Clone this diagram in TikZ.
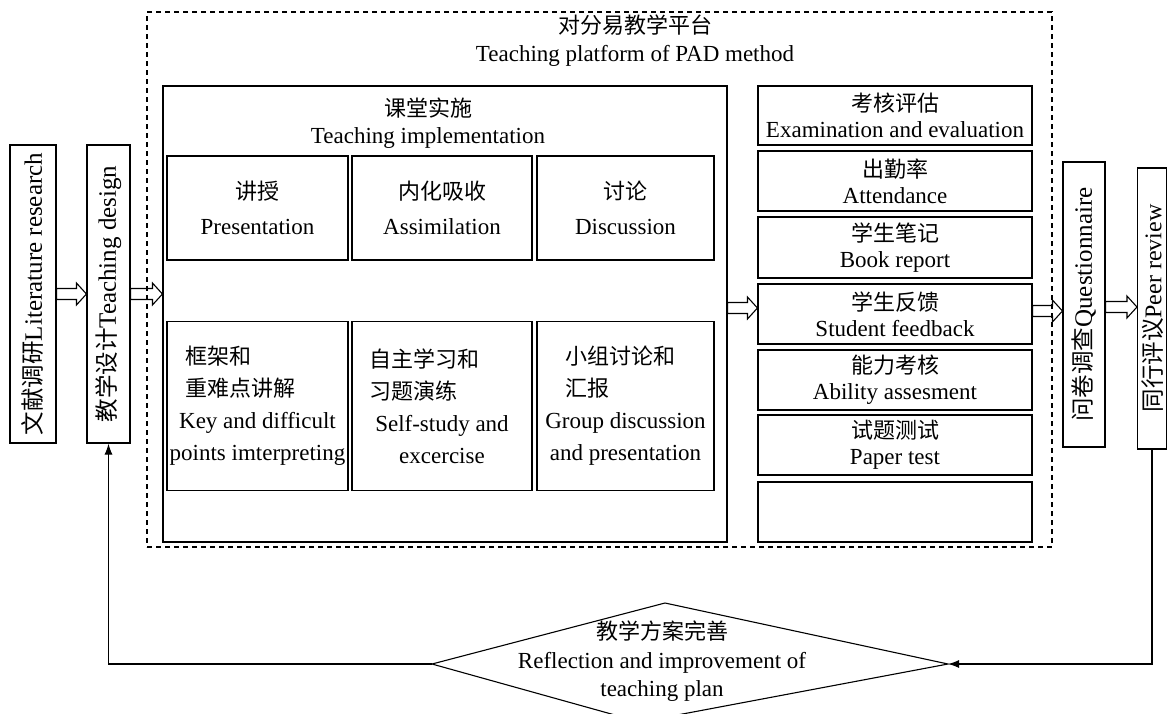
\documentclass[tikz,border=0pt]{standalone}
\usepackage{fontspec}
\setmainfont{Liberation Serif}
\newfontfamily\cjk{Noto Sans CJK SC}
\usetikzlibrary{calc,arrows.meta}
\newcommand\zh[1]{{\cjk\fontsize{22pt}{\baselineskip}\selectfont #1}}
\newcommand\zhv[1]{{\cjk\fontsize{23.5pt}{\baselineskip}\selectfont #1}}
\newcommand\blockarrow[2]{%
  \path let \p1=(#1), \p2=(#2) in [blockarr]
    (\x1,\y1+5.5pt) -- (\x2-10pt,\y1+5.5pt) -- (\x2-10pt,\y1+11pt) -- (\x2,\y1)
    -- (\x2-10pt,\y1-11pt) -- (\x2-10pt,\y1-5.5pt) -- (\x1,\y1-5.5pt) -- cycle;}
\begin{document}
\begin{tikzpicture}[x=1pt,y=-1pt,
  tbox/.style={draw, line width=1.1pt, inner sep=0pt, align=center, font=\fontsize{23pt}{26pt}\selectfont},
  txt/.style={inner sep=0pt, align=center, font=\fontsize{23pt}{28pt}\selectfont},
  rowone/.style={tbox, font=\fontsize{23pt}{35pt}\selectfont, minimum height=104pt},
  rowtwo/.style={tbox, font=\fontsize{23pt}{32pt}\selectfont, minimum height=169pt},
  rc/.style={tbox, minimum width=274pt, minimum height=60pt},
  vtxt/.style={inner sep=0pt, rotate=90, font=\fontsize{25pt}{28pt}\selectfont},
  blockarr/.style={draw, line width=1.1pt, line join=miter},
  fback/.style={draw, line width=1.1pt, -{Latex[length=11pt,width=8pt]}},
]
\useasboundingbox (0,0) rectangle (1167,713);
\clip (0,0) rectangle (1167,713);

% platform (dashed)
\node[draw, line width=1.1pt, dash pattern=on 5pt off 4pt, inner sep=0pt,
      minimum width=905pt, minimum height=535pt] (platform) at (599.5,279.5) {};
\node[txt] (ptitle) at (635,41) {\zh{对分易教学平台}\\Teaching platform of PAD method};

% teaching implementation
\node[tbox, minimum width=564pt, minimum height=456pt] (impl) at (445,314) {};
\node[txt, font=\fontsize{23pt}{27pt}\selectfont] (impltitle) at (428,123.5) {\zh{课堂实施}\\Teaching implementation};

\node[rowone, minimum width=181pt] (pres) at (257.5,208) {\zh{讲授}\\Presentation};
\node[rowone, minimum width=180pt] (assim) at (442,208) {\zh{内化吸收}\\Assimilation};
\node[rowone, minimum width=177pt] (disc) at (625.5,208) {\zh{讨论}\\Discussion};

\node[rowtwo, minimum width=181pt] (keyp) at (257.5,406)
  {\makebox[145pt][l]{\zh{框架和}}\\\makebox[145pt][l]{\zh{重难点讲解}}\\Key and difficult\\points imterpreting};
\node[rowtwo, minimum width=180pt] (self) at (442,406)
  {\makebox[146pt][l]{\zh{自主学习和}}\\\makebox[146pt][l]{\zh{习题演练}}\\Self-study and\\excercise};
\node[rowtwo, minimum width=177pt] (group) at (625.5,406)
  {\makebox[121pt][l]{\zh{小组讨论和}}\\\makebox[121pt][l]{\zh{汇报}}\\Group discussion\\and presentation};

% evaluation column
\node[rc, minimum height=59pt] (exam) at (895,115.5) {\zh{考核评估}\\Examination and evaluation};
\node[rc] (att) at (895,181) {\zh{出勤率}\\Attendance};
\node[rc, minimum height=61pt] (book) at (895,247.5) {\zh{学生笔记}\\Book report};
\node[rc] (fb) at (895,314) {\zh{学生反馈}\\Student feedback};
\node[rc] (abil) at (895,380) {\zh{能力考核}\\Ability assesment};
\node[rc] (paper) at (895,445) {\zh{试题测试}\\Paper test};
\node[rc] (empty) at (895,512) {};

% vertical boxes
\node[tbox, minimum width=46pt, minimum height=298pt] (lit) at (33,294) {};
\node[vtxt] (littxt) at (lit.center) {\zhv{文献调研}Literature research};
\node[tbox, minimum width=43pt, minimum height=298pt] (teach) at (108.5,294) {};
\node[vtxt] (teachtxt) at (teach.center) {\zhv{教学设计}Teaching design};
\node[tbox, minimum width=42pt, minimum height=285pt] (quest) at (1084,304.5) {};
\node[vtxt] (questtxt) at (quest.center) {\zhv{问卷调查}Questionnaire};
\node[tbox, minimum width=29pt, minimum height=281pt] (peer) at (1152,308.5) {};
\node[vtxt, font=\fontsize{24pt}{28pt}\selectfont] (peertxt) at (1152.5,308.5) {\zhv{同行评议}Peer review};

% block arrows
\blockarrow{lit.east}{teach.west}
\blockarrow{teach.east}{impl.west}
\blockarrow{[yshift=6pt]impl.east}{fb.west}
\blockarrow{[yshift=3pt]fb.east}{quest.west}
\blockarrow{[yshift=-2.5pt]quest.east}{peer.west}

% reflection diamond
\coordinate (dl) at (432,664);
\coordinate (dt) at (665,603);
\coordinate (dr) at (948,664);
\coordinate (db) at (640,722);
\draw[line width=1.1pt] (dl) -- (dt) -- (dr) -- (db) -- cycle;
\node[txt, font=\fontsize{23pt}{28.5pt}\selectfont] (refl) at (662,661.5)
  {\zh{教学方案完善}\\Reflection and improvement of\\teaching plan};

% feedback loop
\draw[fback] (peer.south) |- (dr);
\draw[fback] (dl) -| (teach.south);
\end{tikzpicture}
\end{document}
